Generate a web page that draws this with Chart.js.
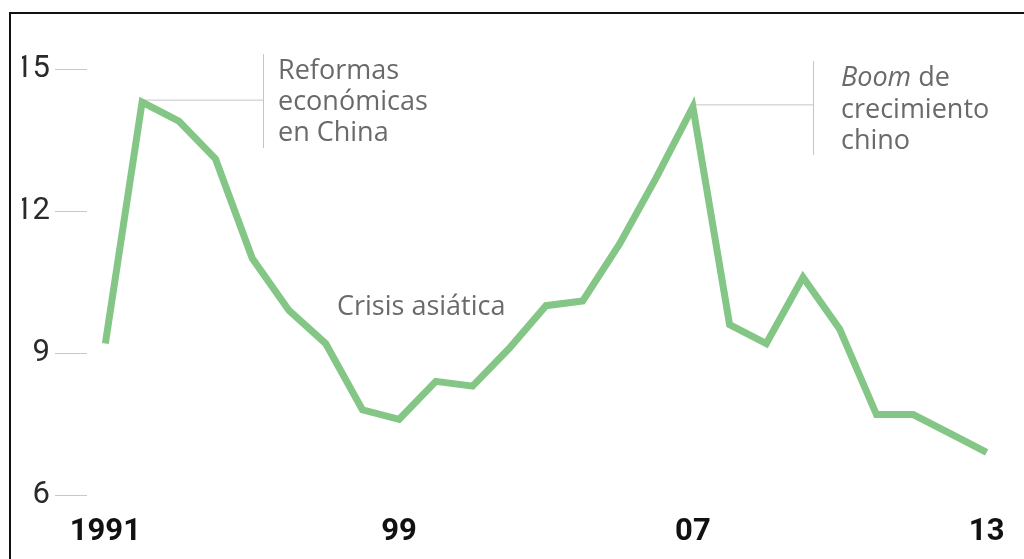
<!DOCTYPE html>
<html>
<head>
  <meta charset="utf-8">
  <title>Crecimiento del PIB de China</title>
  <script src="https://cdn.jsdelivr.net/npm/chart.js"></script>
  <style>
    body {
      margin: 0;
      background: #fff;
      font-family: 'Open Sans', Arial, sans-serif;
    }
    .frame {
      position: relative;
      width: 1024px;
      height: 559px;
      overflow: hidden;
    }
    /* black frame lines at top and left */
    .frame:before {
      content: '';
      position: absolute;
      left: 9px;
      top: 12px;
      right: -10px;
      bottom: -10px;
      border-top: 2px solid #111;
      border-left: 2px solid #111;
      pointer-events: none;
    }
    canvas { display: block; }
  </style>
</head>
<body>
<div class="frame">
  <canvas id="chartGdp" width="1024" height="559"></canvas>
</div>

<script>
  // China GDP growth (%) per year
  const years = [1991, 1992, 1993, 1994, 1995, 1996, 1997, 1998, 1999, 2000, 2001, 2002, 2003,
                 2004, 2005, 2006, 2007, 2008, 2009, 2010, 2011, 2012, 2013, 2014, 2015];
  const growth = [9.2, 14.3, 13.9, 13.1, 11.0, 9.9, 9.2, 7.8, 7.6, 8.4, 8.3, 9.1, 10.0,
                  10.1, 11.3, 12.7, 14.2, 9.6, 9.2, 10.6, 9.5, 7.7, 7.7, 7.3, 6.9];

  // x axis labels as printed
  const tickYears = [1991, 1999, 2007, 2015];
  const tickLabels = ['1991', '99', '07', '13'];

  // y axis
  const yTicks = [6, 9, 12, 15];

  const lineColor = '#84c686';

  // leader lines + text notes
  const notesPlugin = {
    id: 'notes',
    beforeDatasetsDraw(chart) {
      const { ctx, scales: { x, y } } = chart;
      ctx.save();
      ctx.strokeStyle = '#c4c4c4';
      ctx.lineWidth = 1;

      // Reformas (1992 peak)
      const x1 = x.getPixelForValue(1992), y1 = y.getPixelForValue(growth[1]) - 2;
      ctx.beginPath();
      ctx.moveTo(x1, y1); ctx.lineTo(263.5, y1);
      ctx.moveTo(263.5, 54); ctx.lineTo(263.5, 148);
      ctx.stroke();

      // Boom (2007 peak)
      const x2 = x.getPixelForValue(2007), y2 = y.getPixelForValue(growth[16]) - 2;
      ctx.beginPath();
      ctx.moveTo(x2, y2); ctx.lineTo(813.5, y2);
      ctx.moveTo(813.5, 61); ctx.lineTo(813.5, 155);
      ctx.stroke();
      ctx.restore();
    },
    afterDatasetsDraw(chart) {
      const { ctx } = chart;
      ctx.save();
      ctx.fillStyle = '#6a6a6a';
      ctx.textBaseline = 'alphabetic';
      ctx.textAlign = 'left';
      const reg = '400 27px "Open Sans", sans-serif';
      const ital = 'italic 400 27px "Open Sans", sans-serif';

      ctx.font = reg;
      ctx.fillText('Reformas', 278, 79);
      ctx.fillText('económicas', 278, 110);
      ctx.fillText('en China', 278, 141);

      ctx.font = ital;
      ctx.fillText('Boom', 841, 86);
      const w = ctx.measureText('Boom ').width;
      ctx.font = reg;
      ctx.fillText('de', 841 + w, 86);
      ctx.fillText('crecimiento', 841, 118);
      ctx.fillText('chino', 841, 149);

      ctx.fillText('Crisis asiática', 337, 315);
      ctx.restore();
    }
  };

  new Chart(document.getElementById('chartGdp').getContext('2d'), {
    type: 'line',
    data: {
      datasets: [{
        label: 'PIB China',
        data: years.map((yr, i) => ({ x: yr, y: growth[i] })),
        borderColor: lineColor,
        borderWidth: 7,
        pointRadius: 0,
        tension: 0,
        borderJoinStyle: 'miter',
        fill: false
      }]
    },
    options: {
      responsive: false,
      animation: false,
      layout: { padding: { left: 22, right: 19, top: 69, bottom: 12 } },
      plugins: {
        legend: { display: false },
        tooltip: { enabled: false }
      },
      scales: {
        x: {
          type: 'linear',
          min: 1990.5,
          max: 2015.5,
          afterBuildTicks: scale => { scale.ticks = tickYears.map(v => ({ value: v })); },
          afterFit: scale => { scale.height = 52; },
          grid: { display: false, drawTicks: false },
          border: { display: false },
          ticks: {
            autoSkip: false,
            maxRotation: 0,
            padding: 19,
            color: '#111',
            font: { family: 'Roboto', size: 31, weight: 'bold' },
            callback: (val, idx) => tickLabels[idx]
          }
        },
        y: {
          min: 6,
          max: 15,
          afterBuildTicks: scale => { scale.ticks = yTicks.map(v => ({ value: v })); },
          afterFit: scale => { scale.width = 65; },
          grid: { drawOnChartArea: false, drawTicks: true, tickLength: 32, tickColor: '#c8c8c8', lineWidth: 1 },
          border: { display: false },
          ticks: {
            padding: 5,
            color: '#2a2a2a',
            font: { family: "'Liberation Sans Narrow', Roboto", size: 31 }
          }
        }
      }
    },
    plugins: [notesPlugin]
  });
</script>
</body>
</html>
